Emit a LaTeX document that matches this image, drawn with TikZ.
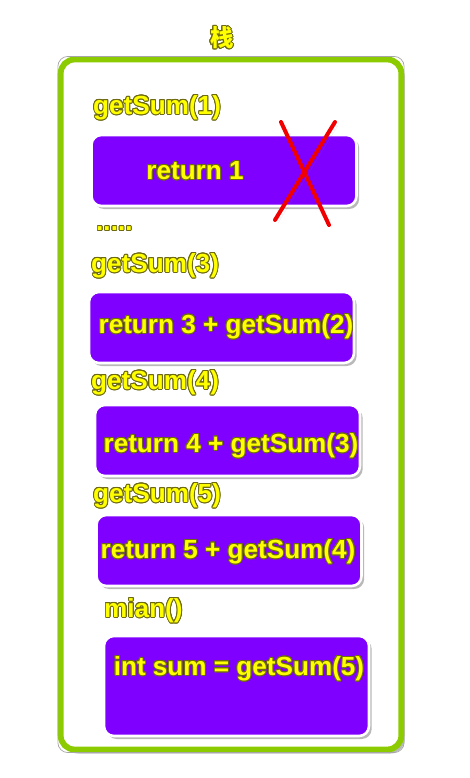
\documentclass[tikz,border=0pt]{standalone}
\usepackage{fontspec}
\setmainfont{Liberation Sans}
\newfontfamily\cjk{Noto Sans CJK SC}
\usepackage[copies]{contour}
\contourlength{0.8pt}
\usetikzlibrary{shadows}
\definecolor{stackgreen}{HTML}{8CCB00}
\definecolor{callviolet}{HTML}{7F00FF}
\definecolor{txtyellow}{HTML}{FFFF00}
\definecolor{txtedge}{HTML}{6E6A10}
\definecolor{crossred}{HTML}{F00000}

\newcommand{\ylw}[1]{\contour{txtedge}{\textcolor{txtyellow}{#1}}}

\begin{document}
\begin{tikzpicture}[
    x=0.03cm, y=-0.03cm,
    font=\bfseries\fontsize{22.3}{25}\selectfont,
    stackframe/.style={draw=stackgreen, line width=5pt, rounded corners=0.42cm,
                 fill=white, minimum width=10.22cm, minimum height=20.7cm,
                 drop shadow={opacity=0.55, shadow xshift=0.1cm, shadow yshift=-0.12cm}},
    callbox/.style={draw=white, line width=2.2pt, fill=callviolet, rounded corners=0.3cm,
                 minimum width=7.95cm, inner sep=0pt,
                 drop shadow={opacity=0.55, shadow xshift=0.08cm, shadow yshift=-0.09cm}},
    code/.style={inner sep=0pt},
    lbl/.style={inner sep=0pt, anchor=west},
    cross/.style={crossred, line width=3.4pt, line cap=round,
                 drop shadow={opacity=0.4}},
]
\useasboundingbox (0,0) rectangle (469,778);

% ---- stack frame ----
\node[stackframe] (stack) at (231,404.5) {};
\draw[black!35, line width=0.6pt, rounded corners=0.3cm]
    ([shift={(0.13,-0.13)}]stack.north west) rectangle ([shift={(-0.13,0.13)}]stack.south east);
\node[inner sep=0pt] (title) at (222,38) {\cjk\fontsize{20}{23}\selectfont\ylw{栈}};

% ---- frames of the calls ----
\node[lbl] (l1) at (93,108) {\ylw{getSum(1)}};
\node[callbox, minimum height=2.13cm] (b1) at (224,170.5) {};
\node[code] (t1) at (195,171) {\ylw{return 1}};

\node[lbl] (dots) at (96,229) {\ylw{.....}};

\node[lbl] (l3) at (91,266) {\ylw{getSum(3)}};
\node[callbox, minimum height=2.13cm] (b3) at (221.5,327.5) {};
\node[code] (t3) at (226,327) {\ylw{return 3 + getSum(2)}};

\node[lbl] (l4) at (91,383) {\ylw{getSum(4)}};
\node[callbox, minimum height=2.13cm] (b4) at (227.5,440.5) {};
\node[code] (t4) at (231,446) {\ylw{return 4 + getSum(3)}};

\node[lbl] (l5) at (93,496) {\ylw{getSum(5)}};
\node[callbox, minimum height=2.13cm] (b5) at (229,550.5) {};
\node[code] (t5) at (228,552) {\ylw{return 5 + getSum(4)}};

\node[lbl] (lm) at (104,611) {\ylw{mian()}};
\node[callbox, minimum height=3.0cm] (bm) at (236.5,686) {};
\node[code] (tm) at (239,669) {\ylw{int sum = getSum(5)}};

% ---- cross over the finished call ----
\coordinate (x1) at (281,122);
\coordinate (x2) at (329,225);
\coordinate (x3) at (335,122);
\coordinate (x4) at (275,220);
\draw[cross] (x1) -- (x2);
\draw[cross] (x3) -- (x4);
\end{tikzpicture}
\end{document}
